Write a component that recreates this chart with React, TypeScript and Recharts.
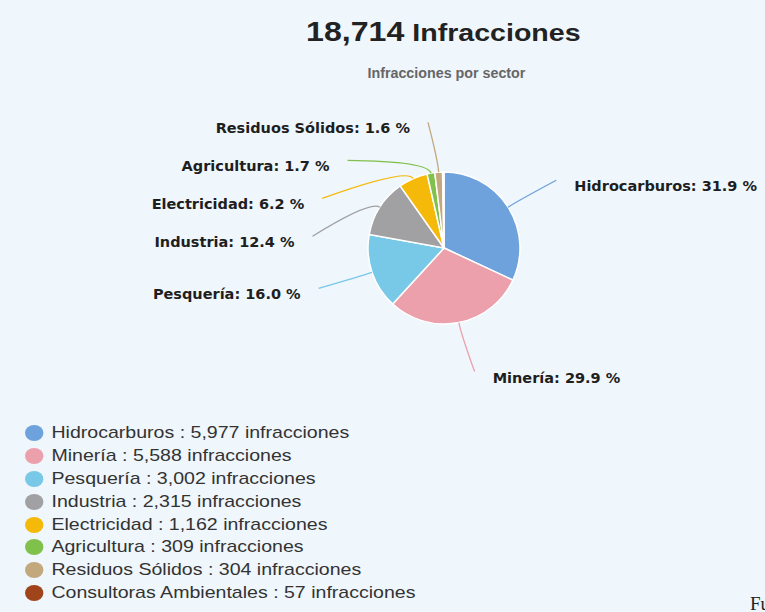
import React from 'react';
import { PieChart, Pie, Cell, Legend } from 'recharts';

// sectors, in drawing order (clockwise from 12 o'clock)
const sectors = [
  'Hidrocarburos',
  'Minería',
  'Pesquería',
  'Industria',
  'Electricidad',
  'Agricultura',
  'Residuos Sólidos',
  'Consultoras Ambientales',
];
const infracciones = [5977, 5588, 3002, 2315, 1162, 309, 304, 57];
const sectorColors = ['#6ea2dd', '#eba0ab', '#78c8e8', '#a1a1a4', '#f5b90a', '#80c14b', '#c2a87c', '#a0441b'];
const showLabel = [true, true, true, true, true, true, true, false];

const W = 765;
const H = 612;
const CX = 444;
const CY = 248;
const R = 76;
const LABEL_R = 126;
const LABEL_GAP = 38;
const RAD = Math.PI / 180;

const total = infracciones.reduce((a, b) => a + b, 0);
const data = sectors.map((name, i) => ({ name, value: infracciones[i] }));

const fmt = (n: number) => n.toLocaleString('en-US');

// mid angle of every slice, same convention as recharts (90 -> -270)
const midAngles = (() => {
  let a = 90;
  return infracciones.map((v) => {
    const span = (v / total) * 360;
    const m = a - span / 2;
    a -= span;
    return m;
  });
})();

const isLeft = (m: number) => Math.cos(m * RAD) < 0;

// stack the labels on each side so they don't overlap
const labelY = (() => {
  const ys = midAngles.map((m) => CY - LABEL_R * Math.sin(m * RAD));
  [true, false].forEach((left) => {
    const idx = midAngles
      .map((_, i) => i)
      .filter((i) => showLabel[i] && isLeft(midAngles[i]) === left)
      .sort((a, b) => ys[a] - ys[b]);
    let prev = -Infinity;
    idx.forEach((i) => {
      ys[i] = Math.max(ys[i], prev + LABEL_GAP);
      prev = ys[i];
    });
  });
  return ys;
})();

const renderLabel = (props: any) => {
  const i = props.index;
  if (!showLabel[i]) return null;
  const cx = props.cx ?? CX;
  const cy = props.cy ?? CY;
  const r = props.outerRadius ?? R;
  const m = props.midAngle ?? midAngles[i];
  const left = isLeft(m);
  const ex = cx + r * Math.cos(m * RAD);
  const ey = cy - r * Math.sin(m * RAD);
  const bx = cx + (r + 12) * Math.cos(m * RAD);
  const by = cy - (r + 12) * Math.sin(m * RAD);
  const ly = labelY[i] + (cy - CY);
  const dy = ly - cy;
  const dx = Math.max(Math.sqrt(Math.max(LABEL_R * LABEL_R - dy * dy, 0)) + 6, 16);
  const lx = cx + (left ? -dx : dx);
  const pct = ((infracciones[i] / total) * 100).toFixed(1);
  return (
    <g key={`lbl-${i}`}>
      <path
        d={`M${lx},${ly} Q${bx},${by} ${ex},${ey}`}
        stroke={sectorColors[i]}
        strokeWidth={1.3}
        fill="none"
      />
      <text
        x={lx + (left ? -18 : 18)}
        y={ly + 6}
        textAnchor={left ? 'end' : 'start'}
        dominantBaseline="central"
        fontFamily="'DejaVu Sans', sans-serif"
        fontWeight="bold"
        fontSize={14.5}
        fill="#1e1e1e"
      >
        {`${sectors[i]}: ${pct} %`}
      </text>
    </g>
  );
};

const renderLegend = () => (
  <div
    style={{
      fontFamily: "'Liberation Sans', Arial, sans-serif",
      fontSize: 17,
      color: '#333',
      transform: 'scaleX(1.15)',
      transformOrigin: 'left top',
    }}
  >
    {sectors.map((name, i) => (
      <div key={name} style={{ display: 'flex', alignItems: 'center', height: 22.8 }}>
        <span
          style={{
            display: 'inline-block',
            width: 16,
            height: 16,
            borderRadius: '50%',
            background: sectorColors[i],
            marginRight: 7,
          }}
        />
        <span style={{ whiteSpace: 'nowrap' }}>{`${name} : ${fmt(infracciones[i])} infracciones`}</span>
      </div>
    ))}
  </div>
);

export default function App() {
  return (
    <div
      style={{
        position: 'relative',
        width: W,
        height: H,
        background: '#eff6fc',
        overflow: 'hidden',
      }}
    >
      <style>{'body{margin:0}'}</style>
      {/* Title */}
      <div
        style={{
          position: 'absolute',
          top: 17,
          left: 0,
          width: W,
          textAlign: 'center',
          fontFamily: "'Liberation Sans', Arial, sans-serif",
          fontWeight: 'bold',
          color: '#222',
          paddingLeft: 121,
          boxSizing: 'border-box',
        }}
      >
        <span style={{ display: 'inline-block', transform: 'scaleX(1.19)' }}>
          <span style={{ fontSize: 27 }}>{fmt(total)}</span>
          <span style={{ fontSize: 24 }}> Infracciones</span>
        </span>
      </div>
      <div
        style={{
          position: 'absolute',
          top: 65,
          left: 0,
          width: W,
          textAlign: 'center',
          fontFamily: "'Liberation Sans', Arial, sans-serif",
          fontWeight: 'bold',
          fontSize: 14,
          color: '#666',
          paddingLeft: 127,
          boxSizing: 'border-box',
        }}
      >
        <span style={{ display: 'inline-block', transform: 'scaleX(1.02)' }}>Infracciones por sector</span>
      </div>

      <PieChart width={W} height={H} margin={{ top: 0, right: 0, bottom: 0, left: 0 }}>
        <Pie
          data={data}
          dataKey="value"
          nameKey="name"
          cx={CX}
          cy={CY}
          outerRadius={R}
          startAngle={90}
          endAngle={-270}
          stroke="#ffffff"
          strokeWidth={1.5}
          label={renderLabel}
          labelLine={false}
          isAnimationActive={false}
        >
          {data.map((d, i) => (
            <Cell key={d.name} fill={sectorColors[i]} />
          ))}
        </Pie>
        <Legend
          content={renderLegend}
          layout="horizontal"
          verticalAlign="bottom"
          align="left"
          wrapperStyle={{ left: 25, top: 422, bottom: 'auto', width: 420 }}
        />
      </PieChart>

      <div
        style={{
          position: 'absolute',
          left: 750,
          top: 594,
          fontFamily: "'Liberation Serif', serif",
          fontSize: 19,
          lineHeight: 1,
          color: '#222',
          whiteSpace: 'nowrap',
        }}
      >
        Fuente
      </div>
    </div>
  );
}
